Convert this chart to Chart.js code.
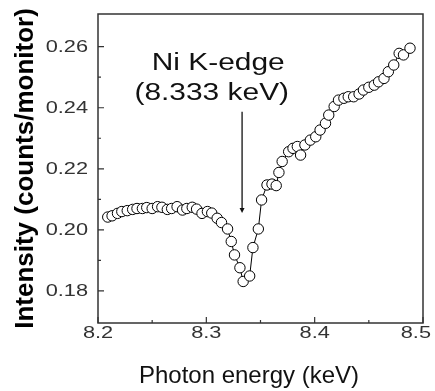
<!DOCTYPE html>
<html>
<head>
<meta charset="utf-8">
<script src="https://cdn.jsdelivr.net/npm/chart.js@4"></script>
<style>
  html, body { margin: 0; padding: 0; background: #fff; }
  #wrap { width: 435px; height: 391px; }
</style>
</head>
<body>
<div id="wrap"><canvas id="xas" width="435" height="391"></canvas></div>
<script>
// photon energy (keV) and measured intensity (counts/monitor)
var energy = [8.209, 8.213, 8.218, 8.222, 8.227, 8.232, 8.236, 8.241, 8.245, 8.250,
  8.255, 8.259, 8.264, 8.268, 8.273, 8.278, 8.282, 8.287, 8.291, 8.296,
  8.301, 8.305, 8.310, 8.314, 8.3196, 8.323, 8.326, 8.331, 8.334, 8.340,
  8.343, 8.348, 8.351, 8.356, 8.3606, 8.3645, 8.367, 8.370, 8.376, 8.380,
  8.384, 8.387, 8.391, 8.396, 8.401, 8.405, 8.410, 8.413, 8.418, 8.422,
  8.427, 8.431, 8.436, 8.441, 8.445, 8.450, 8.455, 8.459, 8.464, 8.468,
  8.473, 8.478, 8.482, 8.488];
var intensity = [0.2042, 0.2046, 0.2054, 0.2060, 0.2063, 0.2067, 0.2070, 0.2070, 0.2073, 0.2070,
  0.2076, 0.2074, 0.2067, 0.2070, 0.2076, 0.2065, 0.2070, 0.2074, 0.2068, 0.2054,
  0.2060, 0.2055, 0.2038, 0.2024, 0.2003, 0.1962, 0.1918, 0.1876, 0.1831, 0.1849,
  0.1942, 0.2003, 0.2098, 0.2147, 0.2150, 0.2145, 0.2188, 0.2224, 0.2256, 0.2267,
  0.2273, 0.2245, 0.2278, 0.2294, 0.2305, 0.2327, 0.2349, 0.2376, 0.2404, 0.2425,
  0.2431, 0.2436, 0.2436, 0.2445, 0.2458, 0.2467, 0.2474, 0.2485, 0.2496, 0.2518,
  0.2540, 0.2578, 0.2573, 0.2595];

var xTicks = [8.2, 8.3, 8.4, 8.5];
var xMinor = [8.25, 8.35, 8.45];
var yTicks = [0.18, 0.20, 0.22, 0.24, 0.26];
var yMinor = [0.19, 0.21, 0.23, 0.25];

var xTitle = 'Photon energy (keV)';
var edgeEnergy = 8.333;
var edgeLabel = ['Ni K-edge', '(8.333 keV)'];

var pts = energy.map(function (e, i) { return {x: e, y: intensity[i]}; });

// the original uses a wide sans face, so text gets stretched sideways
function wideText(c, txt, x, y, sx) {
  c.save(); c.translate(x, y); c.scale(sx, 1); c.fillText(txt, 0, 0); c.restore();
}

// frame, inward ticks, tick labels and the edge arrow + label
var decor = {
  id: 'decor',
  afterDraw: function (chart) {
    var c = chart.ctx, a = chart.chartArea;
    var xs = chart.scales.x, ys = chart.scales.y;
    c.save();
    c.strokeStyle = '#333';
    c.lineWidth = 1.5;
    c.strokeRect(a.left, a.top, a.right - a.left, a.bottom - a.top);
    c.lineWidth = 1.2;
    c.beginPath();
    xTicks.forEach(function (v) { var p = xs.getPixelForValue(v); c.moveTo(p, a.bottom); c.lineTo(p, a.bottom - 6); });
    xMinor.forEach(function (v) { var p = xs.getPixelForValue(v); c.moveTo(p, a.bottom); c.lineTo(p, a.bottom - 3); });
    yTicks.forEach(function (v) { var p = ys.getPixelForValue(v); c.moveTo(a.left, p); c.lineTo(a.left + 6, p); });
    yMinor.forEach(function (v) { var p = ys.getPixelForValue(v); c.moveTo(a.left, p); c.lineTo(a.left + 3, p); });
    c.stroke();

    // tick labels (last one kept inside the canvas)
    c.fillStyle = '#333';
    c.font = '17px "Liberation Sans", Arial, sans-serif';
    c.textBaseline = 'alphabetic';
    c.textAlign = 'center';
    xTicks.forEach(function (v) {
      var s = v.toFixed(1), hw = c.measureText(s).width * 1.28 / 2;
      var p = Math.min(xs.getPixelForValue(v), chart.width - 4 - hw);
      wideText(c, s, p, a.bottom + 15, 1.28);
    });
    c.textAlign = 'right';
    yTicks.forEach(function (v) { wideText(c, v.toFixed(2), a.left - 10, ys.getPixelForValue(v) + 5, 1.28); });

    // x title
    c.fillStyle = '#111';
    c.font = '24px "Liberation Sans", Arial, sans-serif';
    c.textAlign = 'center';
    c.fillText(xTitle, xs.getPixelForValue(8.2) + 151, 383);

    // arrow
    var ax = xs.getPixelForValue(edgeEnergy);
    var y0 = ys.getPixelForValue(0.2387), y1 = ys.getPixelForValue(0.2055);
    c.strokeStyle = '#111';
    c.lineWidth = 1.3;
    c.beginPath(); c.moveTo(ax, y0); c.lineTo(ax, y1 - 4); c.stroke();
    c.beginPath(); c.moveTo(ax - 2.5, y1 - 5); c.lineTo(ax + 2.5, y1 - 5); c.lineTo(ax, y1); c.closePath(); c.fill();

    // label
    c.font = '23px "Liberation Sans", Arial, sans-serif';
    wideText(c, edgeLabel[0], xs.getPixelForValue(8.311), 70, 1.3);
    wideText(c, edgeLabel[1], xs.getPixelForValue(8.305), 100, 1.3);
    c.restore();
  }
};

var config = {
  type: 'scatter',
  data: {
    datasets: [{
      data: pts,
      showLine: true,
      borderColor: '#000',
      borderWidth: 1,
      pointRadius: 5.2,
      pointBorderWidth: 1,
      pointBorderColor: '#000',
      pointBackgroundColor: '#fff'
    }]
  },
  options: {
    responsive: false,
    animation: false,
    layout: {padding: {top: 14, right: 12, left: 0, bottom: 0}},
    plugins: {legend: {display: false}, tooltip: {enabled: false}},
    scales: {
      x: {
        min: 8.2, max: 8.5,
        grid: {display: false, drawTicks: false},
        border: {display: false},
        afterBuildTicks: function (s) { s.ticks = xTicks.map(function (v) { return {value: v}; }); },
        afterFit: function (s) { s.height = 68; },
        ticks: {display: false}
      },
      y: {
        min: 0.1695, max: 0.2707,
        grid: {display: false, drawTicks: false},
        border: {display: false},
        afterBuildTicks: function (s) { s.ticks = yTicks.map(function (v) { return {value: v}; }); },
        afterFit: function (s) { s.width = 98; },
        ticks: {display: false},
        title: {
          display: true,
          text: 'Intensity (counts/monitor)',
          color: '#000',
          font: {family: '"Liberation Sans", Arial', size: 26, weight: 'bold', lineHeight: 1.2},
          padding: {top: 10, bottom: 0}
        }
      }
    }
  },
  plugins: [decor]
};

var chart = new Chart(document.getElementById('xas'), config);
</script>
</body>
</html>
